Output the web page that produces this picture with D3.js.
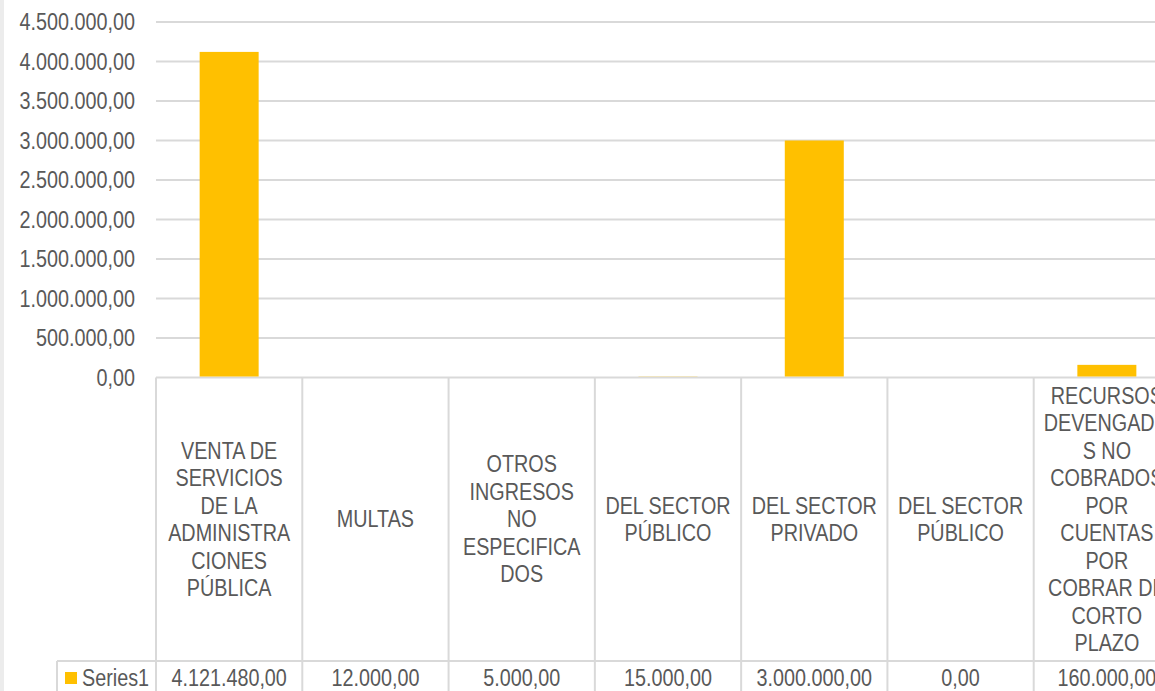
<!DOCTYPE html>
<html>
<head>
<meta charset="utf-8">
<script src="https://cdn.jsdelivr.net/npm/d3@7"></script>
<style>
  html, body { margin: 0; padding: 0; background: #fff; }
  svg { display: block; }
</style>
</head>
<body>
<div id="chart"></div>
<script>
const width = 1155;
const height = 691;
const marginLeft = 156;
const plotRight = 1180;   // last column runs past the window edge
const yTop = 22;
const yZero = 377.5;
const tableRowY = 661;

// Data
const categories = [
    ["VENTA DE", "SERVICIOS", "DE LA", "ADMINISTRA", "CIONES", "PÚBLICA"],
    ["MULTAS"],
    ["OTROS", "INGRESOS", "NO", "ESPECIFICA", "DOS"],
    ["DEL SECTOR", "PÚBLICO"],
    ["DEL SECTOR", "PRIVADO"],
    ["DEL SECTOR", "PÚBLICO"],
    ["RECURSOS", "DEVENGADO", "S NO", "COBRADOS", "POR", "CUENTAS", "POR", "COBRAR DE", "CORTO", "PLAZO"]
];
const values = [4121480, 12000, 5000, 15000, 3000000, 0, 160000];
const seriesName = "Series1";
const yTicks = [0, 500000, 1000000, 1500000, 2000000, 2500000, 3000000, 3500000, 4000000, 4500000];

const barColor = "#FFC000";
const textColor = "#595959";
const gridColor = "#d9d9d9";
const fontSize = 23;
const squeeze = 0.86;   // narrow-font look

const fmt = v => {
    const s = v.toFixed(2).split(".");
    return s[0].replace(/\B(?=(\d{3})+(?!\d))/g, ".") + "," + s[1];
};

const svg = d3.select("#chart").append("svg")
    .attr("width", width)
    .attr("height", height)
    .attr("viewBox", [0, 0, width, height])
    .style("font-family", "'Liberation Sans', Arial, sans-serif");

// faint strip on the left edge
svg.append("rect")
    .attr("x", 0).attr("y", 0)
    .attr("width", 4).attr("height", height)
    .attr("fill", "#ececec");

// Scales
const x = d3.scaleBand()
    .domain(d3.range(categories.length))
    .range([marginLeft, plotRight]);

const y = d3.scaleLinear()
    .domain([0, 4500000])
    .range([yZero, yTop]);

// Grid
svg.append("g")
    .attr("stroke", gridColor)
    .attr("stroke-width", 2)
    .selectAll("line")
    .data(yTicks)
    .join("line")
    .attr("x1", marginLeft)
    .attr("x2", width)
    .attr("y1", d => y(d))
    .attr("y2", d => y(d));

// Y labels
svg.append("g")
    .attr("fill", textColor)
    .attr("font-size", fontSize)
    .attr("text-anchor", "end")
    .selectAll("text")
    .data(yTicks)
    .join("text")
    .attr("transform", d => `translate(135,${y(d)}) scale(${squeeze},1)`)
    .attr("dy", "0.35em")
    .text(d => fmt(d));

// Bars
const barW = 59;
svg.append("g")
    .selectAll("rect")
    .data(values)
    .join("rect")
    .attr("x", (d, i) => x(i) + x.bandwidth() / 2 - barW / 2)
    .attr("y", d => y(d))
    .attr("width", barW)
    .attr("height", d => yZero - 1 - y(d) > 0 ? yZero - 1 - y(d) : 0)
    .attr("fill", barColor);

// Data table
const table = svg.append("g")
    .attr("stroke", gridColor)
    .attr("stroke-width", 2);

table.selectAll("line.v")
    .data(d3.range(categories.length + 1))
    .join("line")
    .attr("class", "v")
    .attr("x1", i => i < categories.length ? x(i) : plotRight)
    .attr("x2", i => i < categories.length ? x(i) : plotRight)
    .attr("y1", yZero)
    .attr("y2", height);

table.append("line")
    .attr("x1", 57).attr("x2", width)
    .attr("y1", tableRowY).attr("y2", tableRowY);

table.append("line")
    .attr("x1", 57).attr("x2", 57)
    .attr("y1", tableRowY).attr("y2", height);

// Category labels
const lineH = 27.5;
const headerMid = (yZero + tableRowY) / 2;
svg.append("g")
    .attr("fill", textColor)
    .attr("font-size", fontSize)
    .attr("text-anchor", "middle")
    .selectAll("text")
    .data(categories)
    .join("text")
    .attr("transform", (d, i) =>
        `translate(${x(i) + x.bandwidth() / 2},${headerMid - (d.length - 1) * lineH / 2}) scale(${squeeze},1)`)
    .each(function (d) {
        d3.select(this).selectAll("tspan")
            .data(d)
            .join("tspan")
            .attr("x", 0)
            .attr("dy", (t, j) => j === 0 ? "0.35em" : lineH)
            .text(t => t);
    });

// Value row
svg.append("g")
    .attr("fill", textColor)
    .attr("font-size", fontSize)
    .attr("text-anchor", "middle")
    .selectAll("text")
    .data(values)
    .join("text")
    .attr("transform", (d, i) => `translate(${x(i) + x.bandwidth() / 2},677.5) scale(${squeeze},1)`)
    .attr("dy", "0.35em")
    .text(d => fmt(d));

// Legend key in table
svg.append("rect")
    .attr("x", 65).attr("y", 672)
    .attr("width", 12).attr("height", 12)
    .attr("fill", barColor);

svg.append("text")
    .attr("transform", `translate(82,677.5) scale(${squeeze},1)`)
    .attr("dy", "0.35em")
    .attr("fill", textColor)
    .attr("font-size", fontSize)
    .text(seriesName);
</script>
</body>
</html>
